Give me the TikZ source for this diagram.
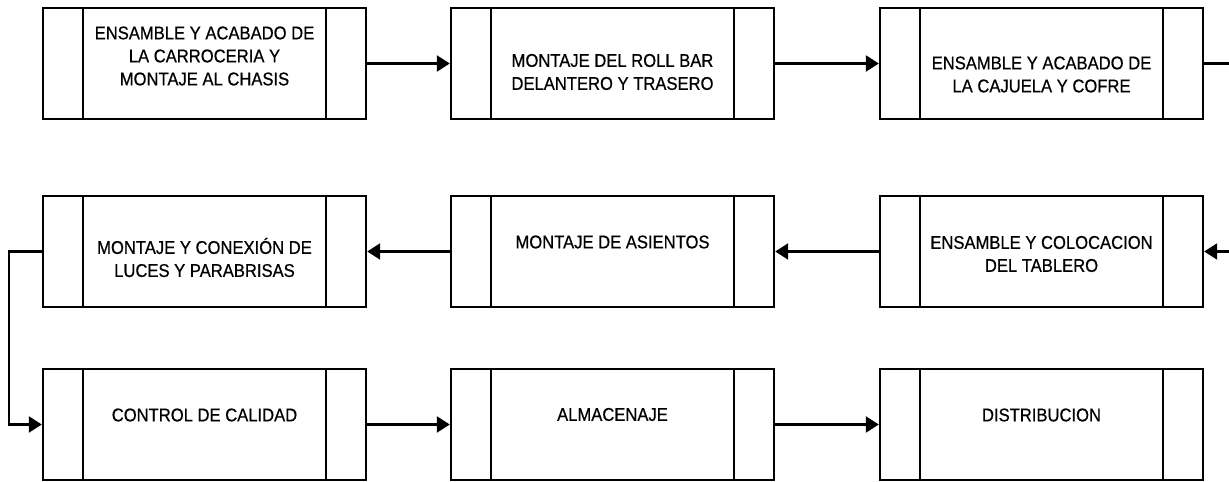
\documentclass[tikz,border=0pt]{standalone}
\usepackage{fontspec}
\setmainfont{Liberation Sans}[FakeStretch=0.9,FakeBold=0.6]
\usetikzlibrary{arrows.meta,positioning,calc}

\begin{document}
\begin{tikzpicture}[x=0.02cm,y=-0.02cm,>={Triangle[length=0.26cm,width=0.32cm]},
  proc/.style={draw,line width=1.4pt,minimum width=6.46cm,minimum height=2.22cm,inner sep=0pt,
    path picture={
      \draw[line width=1.4pt] ([xshift=0.8cm]path picture bounding box.north west)--([xshift=0.8cm]path picture bounding box.south west);
      \draw[line width=1.4pt] ([xshift=-0.8cm]path picture bounding box.north east)--([xshift=-0.8cm]path picture bounding box.south east);}},
  txt/.style={align=center,font=\fontsize{10.5}{13.1}\selectfont,inner sep=0pt},
  flow/.style={->,line width=1.3pt}]
\useasboundingbox (0,0) rectangle (1229,482);

% ===== row 1 =====
\node[proc,label={[txt,yshift=0.15cm]center:ENSAMBLE Y ACABADO DE\\LA CARROCERIA Y\\MONTAJE AL CHASIS}] (b1) at (204.5,63.5){};
\node[proc,label={[txt,yshift=-0.17cm]center:MONTAJE DEL ROLL BAR\\DELANTERO Y TRASERO}] (b2) at (612.5,63.5){};
\node[proc,label={[txt,yshift=-0.22cm]center:ENSAMBLE Y ACABADO DE\\LA CAJUELA Y COFRE}] (b3) at (1041.5,63.5){};
% ===== row 2 =====
\node[proc,label={[txt,yshift=-0.12cm]center:MONTAJE Y CONEXIÓN DE\\LUCES Y PARABRISAS}] (b4) at (204.5,251.5){};
\node[proc,label={[txt,yshift=0.19cm]center:MONTAJE DE ASIENTOS}] (b5) at (612.5,251.5){};
\node[proc,label={[txt,yshift=-0.05cm]center:ENSAMBLE Y COLOCACION\\DEL TABLERO}] (b6) at (1041.5,251.5){};
% ===== row 3 =====
\node[proc,label={[txt,yshift=0.19cm]center:CONTROL DE CALIDAD}] (b7) at (204.5,424.5){};
\node[proc,label={[txt,yshift=0.2cm]center:ALMACENAJE}] (b8) at (612.5,424.5){};
\node[proc,label={[txt,yshift=0.19cm]center:DISTRIBUCION}] (b9) at (1041.5,424.5){};

% ===== flow =====
\draw[flow] (b1)--(b2); \draw[flow] (b2)--(b3);
\draw[flow] (b3.east)--++(50,0)|-(b6.east);
\draw[flow] (b6)--(b5); \draw[flow] (b5)--(b4);
\draw[flow] (b4.west)--++(-33,0)|-(b7.west);
\draw[flow] (b7)--(b8); \draw[flow] (b8)--(b9);
\end{tikzpicture}
\end{document}
